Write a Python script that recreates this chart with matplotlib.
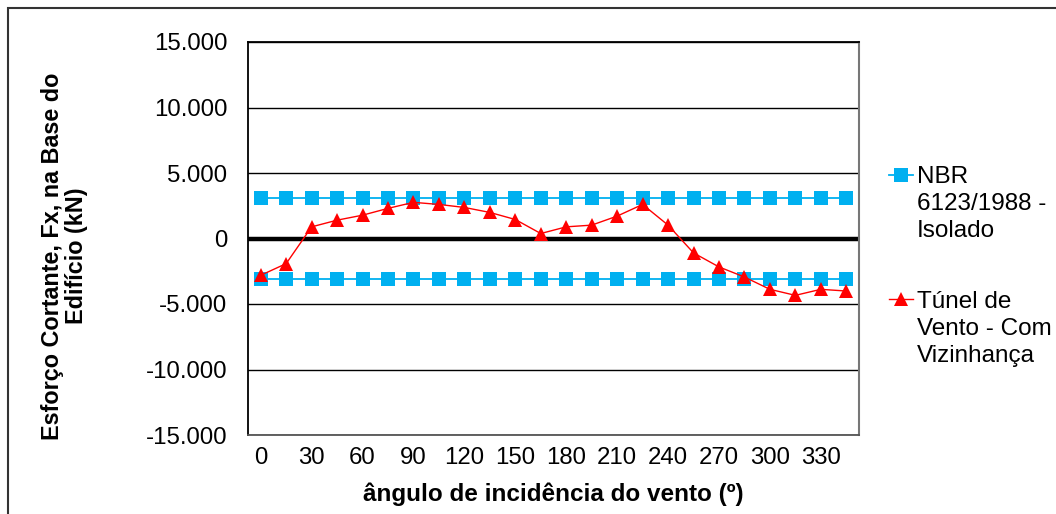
import matplotlib
matplotlib.use("Agg")
import matplotlib.pyplot as plt
from matplotlib.ticker import FuncFormatter, FixedLocator
from matplotlib.patches import Rectangle

plt.rcParams['font.family'] = ['Liberation Sans', 'DejaVu Sans']

angles = [0, 15, 30, 45, 60, 75, 90, 105, 120, 135, 150, 165,
          180, 195, 210, 225, 240, 255, 270, 285, 300, 315, 330, 345]
nbr_upper = [3060] * 24
nbr_lower = [-3060] * 24
tunel = [-2810, -1915, 890, 1400, 1780, 2300, 2760, 2600, 2370, 1990, 1450, 380,
         890, 1020, 1710, 2600, 1020, -1100, -2170, -2940, -3880, -4340, -3880, -4010]
yticks = [-15000, -10000, -5000, 0, 5000, 10000, 15000]
label_nbr = "NBR\n6123/1988 -\nIsolado"
label_tunel = "Túnel de\nVento - Com\nVizinhança"
xlabel = "ângulo de incidência do vento (º)"
ylabel = "Esforço Cortante, Fx, na Base do\nEdifício (kN)"

W, H = 1056, 514
fig = plt.figure(figsize=(W / 100, H / 100), dpi=100)
ax = fig.add_axes([248 / W, 1 - 435 / H, (859 - 248) / W, (435 - 42) / H])

idx = list(range(len(angles)))
cyan = "#00B0F0"
l1, = ax.plot(idx, nbr_upper, color=cyan, lw=1.3, marker="s", markersize=10,
              markeredgewidth=0, zorder=3)
ax.plot(idx, nbr_lower, color=cyan, lw=1.3, marker="s", markersize=10,
        markeredgewidth=0, zorder=3)
l2, = ax.plot(idx, tunel, color="#FF0000", lw=1.0, marker="^", markersize=10.5,
              markeredgewidth=0, zorder=4)

ax.set_xlim(-0.5, len(angles) - 0.5)
ax.set_ylim(-15000, 15000)
ax.yaxis.set_major_locator(FixedLocator(yticks))
ax.yaxis.set_major_formatter(FuncFormatter(lambda v, p: f"{v:,.0f}".replace(",", ".")))
ax.set_xticks(idx[::2])
ax.set_xticklabels([str(a) for a in angles[::2]])
ax.tick_params(axis="both", length=0, labelsize=17.3)
ax.tick_params(axis="y", pad=15)
ax.tick_params(axis="x", pad=9)

for y in yticks:
    if y == 0:
        ax.axhline(y, color="black", lw=3.2, zorder=2)
    else:
        ax.axhline(y, color="black", lw=1.0, zorder=1)

ax.spines["left"].set_color("black")
ax.spines["left"].set_linewidth(1.3)
ax.spines["top"].set_color("black")
ax.spines["top"].set_linewidth(1.3)
ax.spines["bottom"].set_color("#555555")
ax.spines["bottom"].set_linewidth(1.3)
ax.spines["right"].set_color("#777777")
ax.spines["right"].set_linewidth(1.5)

ax.set_xlabel(xlabel, fontsize=17.5, fontweight="bold", labelpad=9)
ax.set_ylabel(ylabel, fontsize=16.8, fontweight="bold", linespacing=1.05)
ax.yaxis.set_label_coords((88 - 248) / 611, (435 - 256) / 393)

leg = fig.legend([l1, l2], [label_nbr, label_tunel], loc="upper left",
                 bbox_to_anchor=(889 / W, 1 - 166 / H), frameon=False,
                 fontsize=17.5, handlelength=1.0, handletextpad=0.15,
                 labelspacing=2.0, borderpad=0, borderaxespad=0)
for t in leg.get_texts():
    t.set_linespacing(1.3)
for line in leg.get_lines():
    line.set_markersize(10)
for col in leg._legend_handle_box.get_children():
    for item in col.get_children():
        item.align = "top"

fig.add_artist(Rectangle((8 / W, -0.1), 1.2, 1 - 8 / H + 0.1, transform=fig.transFigure,
                         fill=False, edgecolor="#333333", lw=1.5))

fig.savefig("out.png", dpi=100)
